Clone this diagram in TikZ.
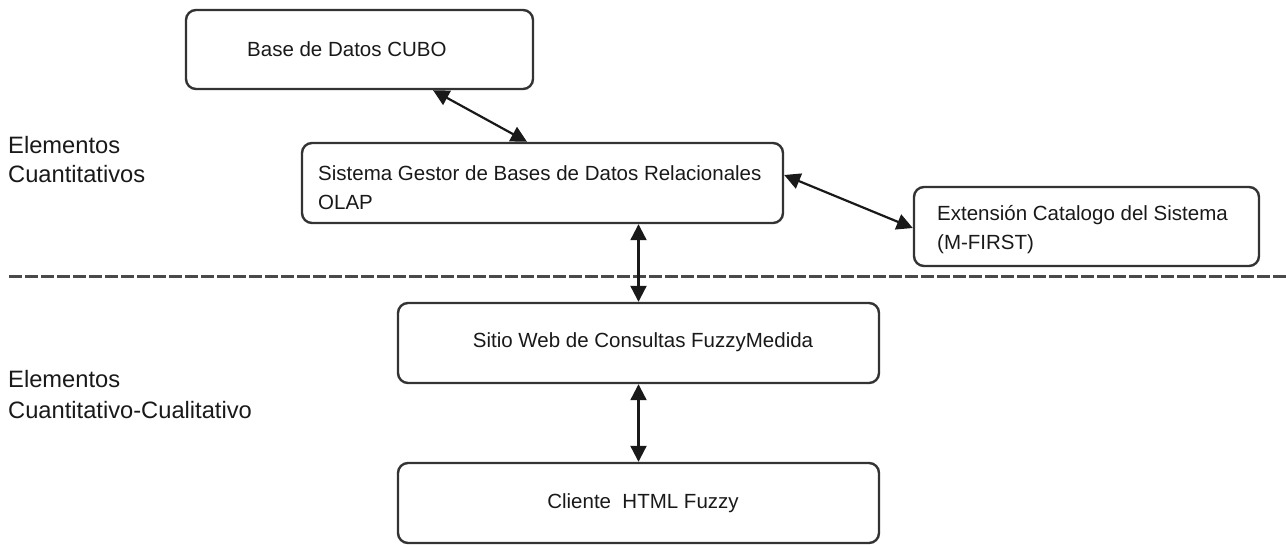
\documentclass[tikz,border=0pt]{standalone}
\usepackage{fontspec}
\setmainfont{Liberation Sans}
\usetikzlibrary{arrows.meta}
\definecolor{boxline}{HTML}{333333}
\definecolor{dashcol}{HTML}{4A4A4A}
\tikzset{
  box/.style={draw=boxline, line width=2.4pt, rounded corners=10pt, rectangle, inner sep=0pt},
  btext/.style={inner sep=0pt, anchor=base west, font=\fontsize{20.5}{24}\selectfont, text=black!90},
  ctext/.style={inner sep=0pt, anchor=base, font=\fontsize{20.5}{24}\selectfont, text=black!90},
  ltext/.style={inner sep=0pt, anchor=base west, font=\fontsize{23.7}{27}\selectfont, text=black!90},
  biarrow/.style={line width=2.2pt, draw=black!90, {Triangle[length=16pt,width=16pt]}-{Triangle[length=16pt,width=16pt]}},
  divider/.style={draw=dashcol, line width=3pt, dash pattern=on 12.5pt off 3.5pt}
}
\begin{document}
\begin{tikzpicture}[x=1pt,y=-1pt]
\useasboundingbox (0,0) rectangle (1286,545);
% boxes
\node[box, minimum width=347pt, minimum height=79pt] (cubo) at (359.5,49.5) {};
\node[box, minimum width=481pt, minimum height=80pt] (sgbd) at (542.5,183) {};
\node[box, minimum width=345pt, minimum height=79pt] (ext) at (1086.5,226.5) {};
\node[box, minimum width=481pt, minimum height=80pt] (web) at (638.5,343) {};
\node[box, minimum width=481pt, minimum height=80pt] (cli) at (638.5,503) {};
% box texts
\node[btext] (tcubo) at (247,57) {Base de Datos CUBO};
\node[btext] (tsgbd1) at (318,181) {Sistema Gestor de Bases de Datos Relacionales};
\node[btext] (tsgbd2) at (318,210) {OLAP};
\node[btext] (text1) at (937,221) {Extensión Catalogo del Sistema};
\node[btext] (text2) at (937,250) {(M-FIRST)};
\node[ctext] (tweb) at (643,348) {Sitio Web de Consultas FuzzyMedida};
\node[ctext] (tcli) at (643,508) {Cliente\ \ HTML Fuzzy};
% side labels
\node[ltext] (l1a) at (8,154) {Elementos};
\node[ltext] (l1b) at (8,183) {Cuantitativos};
\node[ltext] (l2a) at (8,388) {Elementos};
\node[ltext] (l2b) at (8,418) {Cuantitativo-Cualitativo};
% divider
\coordinate (dl) at (9,277);
\coordinate (dr) at (1286,277);
\draw[divider] (dl) -- (dr);
% connectors
\draw[biarrow] ([xshift=73.5pt]cubo.south) -- ([xshift=-15.5pt]sgbd.north);
\draw[biarrow] ([yshift=8pt]sgbd.east) -- ([yshift=-1.5pt]ext.west);
\draw[biarrow] (web.north |- sgbd.south) -- (web.north);
\draw[biarrow] (web.south) -- (cli.north);
\end{tikzpicture}
\end{document}
